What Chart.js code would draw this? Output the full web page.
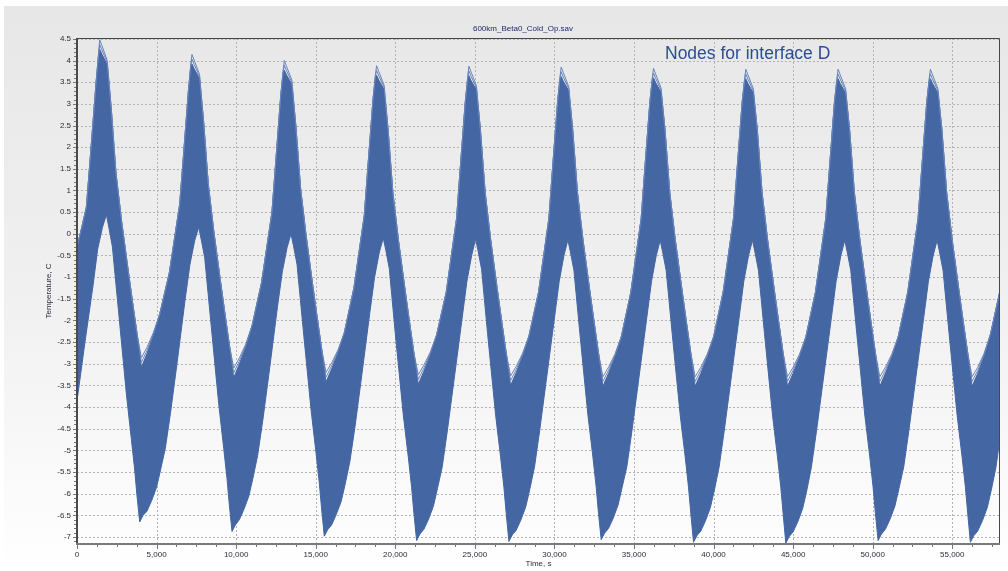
<!DOCTYPE html>
<html>
<head>
<meta charset="utf-8">
<title>600km_Beta0_Cold_Op.sav</title>
<script src="https://cdn.jsdelivr.net/npm/chart.js@4.4.1/dist/chart.umd.min.js"></script>
<style>
  html, body { margin: 0; padding: 0; background: #ffffff; }
  canvas { display: block; }
</style>
</head>
<body>
<canvas id="chart" width="1008" height="571"></canvas>
<script>
// Warmest node temperature over time (upper edge of the node band), s / °C
const upperTime = [
  0, 300, 590, 800, 1000, 1200, 1350, 1426,
  1560, 1900, 2150, 2450, 2800, 3200, 3500, 3770, 4046,
  4400, 4800, 5200, 5800, 6450, 6700, 7000, 7150, 7226,
  7360, 7700, 7950, 8250, 8600, 9000, 9300, 9570, 9846,
  10200, 10600, 11000, 11600, 12250, 12500, 12800, 12950, 13026,
  13160, 13500, 13750, 14050, 14400, 14800, 15100, 15370, 15646,
  16000, 16400, 16800, 17400, 18050, 18300, 18600, 18750, 18826,
  18960, 19300, 19550, 19850, 20200, 20600, 20900, 21170, 21446,
  21800, 22200, 22600, 23200, 23850, 24100, 24400, 24550, 24626,
  24760, 25100, 25350, 25650, 26000, 26400, 26700, 26970, 27246,
  27600, 28000, 28400, 29000, 29650, 29900, 30200, 30350, 30426,
  30560, 30900, 31150, 31450, 31800, 32200, 32500, 32770, 33046,
  33400, 33800, 34200, 34800, 35450, 35700, 36000, 36150, 36226,
  36360, 36700, 36950, 37250, 37600, 38000, 38300, 38570, 38846,
  39200, 39600, 40000, 40600, 41250, 41500, 41800, 41950, 42026,
  42160, 42500, 42750, 43050, 43400, 43800, 44100, 44370, 44646,
  45000, 45400, 45800, 46400, 47050, 47300, 47600, 47750, 47826,
  47960, 48300, 48550, 48850, 49200, 49600, 49900, 50170, 50446,
  50800, 51200, 51600, 52200, 52850, 53100, 53400, 53550, 53626,
  53760, 54100, 54350, 54650, 55000, 55400, 55700, 55970, 56246,
  56600, 57000, 57400, 58000
];
const upperTemp = [
  -0.30, 0.15, 0.62, 1.60, 2.55, 3.50, 4.15, 4.48,
  4.35, 4.00, 2.90, 1.40, 0.30, -0.80, -1.60, -2.30, -2.86,
  -2.62, -2.28, -1.85, -0.90, 0.68, 1.85, 3.30, 3.92, 4.14,
  4.01, 3.68, 2.62, 1.15, 0.05, -1.05, -1.85, -2.55, -3.10,
  -2.87, -2.55, -2.12, -1.12, 0.50, 1.72, 3.18, 3.76, 4.00,
  3.87, 3.55, 2.50, 1.05, -0.05, -1.15, -1.95, -2.65, -3.20,
  -2.98, -2.68, -2.28, -1.25, 0.42, 1.65, 3.10, 3.67, 3.88,
  3.75, 3.43, 2.40, 0.95, -0.15, -1.25, -2.05, -2.75, -3.25,
  -3.03, -2.73, -2.33, -1.35, 0.35, 1.60, 3.05, 3.62, 3.87,
  3.74, 3.42, 2.40, 0.95, -0.15, -1.25, -2.05, -2.75, -3.28,
  -3.06, -2.76, -2.36, -1.35, 0.35, 1.60, 3.05, 3.62, 3.85,
  3.72, 3.40, 2.40, 0.95, -0.15, -1.25, -2.05, -2.75, -3.30,
  -3.08, -2.78, -2.38, -1.35, 0.35, 1.60, 3.05, 3.60, 3.82,
  3.69, 3.37, 2.40, 0.95, -0.15, -1.25, -2.05, -2.75, -3.30,
  -3.08, -2.78, -2.38, -1.35, 0.35, 1.60, 3.05, 3.58, 3.80,
  3.67, 3.35, 2.40, 0.95, -0.15, -1.25, -2.05, -2.75, -3.30,
  -3.08, -2.78, -2.38, -1.35, 0.35, 1.60, 3.05, 3.58, 3.80,
  3.67, 3.35, 2.40, 0.95, -0.15, -1.25, -2.05, -2.75, -3.30,
  -3.08, -2.78, -2.38, -1.35, 0.35, 1.60, 3.05, 3.58, 3.80,
  3.67, 3.35, 2.40, 0.95, -0.15, -1.25, -2.05, -2.75, -3.30,
  -3.08, -2.76, -2.32, -1.31
];
// Spread of the outermost node curves below the upper edge at crests and troughs, °C
const upperSpread = [
  0, 0, 0, 0, 0, 0, 0.06, 0.22,
  0.20, 0.10, 0, 0, 0, 0, 0, 0, 0.22,
  0.14, 0.06, 0, 0, 0, 0, 0, 0.06, 0.22,
  0.20, 0.10, 0, 0, 0, 0, 0, 0, 0.22,
  0.14, 0.06, 0, 0, 0, 0, 0, 0.06, 0.22,
  0.20, 0.10, 0, 0, 0, 0, 0, 0, 0.22,
  0.14, 0.06, 0, 0, 0, 0, 0, 0.06, 0.22,
  0.20, 0.10, 0, 0, 0, 0, 0, 0, 0.22,
  0.14, 0.06, 0, 0, 0, 0, 0, 0.06, 0.22,
  0.20, 0.10, 0, 0, 0, 0, 0, 0, 0.22,
  0.14, 0.06, 0, 0, 0, 0, 0, 0.06, 0.22,
  0.20, 0.10, 0, 0, 0, 0, 0, 0, 0.22,
  0.14, 0.06, 0, 0, 0, 0, 0, 0.06, 0.22,
  0.20, 0.10, 0, 0, 0, 0, 0, 0, 0.22,
  0.14, 0.06, 0, 0, 0, 0, 0, 0.06, 0.22,
  0.20, 0.10, 0, 0, 0, 0, 0, 0, 0.22,
  0.14, 0.06, 0, 0, 0, 0, 0, 0.06, 0.22,
  0.20, 0.10, 0, 0, 0, 0, 0, 0, 0.22,
  0.14, 0.06, 0, 0, 0, 0, 0, 0.06, 0.22,
  0.20, 0.10, 0, 0, 0, 0, 0, 0, 0.22,
  0.14, 0.06, 0, 0
];
// Coldest node temperature over time (lower edge of the node band), s / °C
const lowerTime = [
  0, 500, 1005, 1300, 1600, 1847,
  2000, 2224, 2600, 3104, 3418, 3626, 3770, 3940,
  4150, 4400, 4700, 5000, 5250, 5550, 5870, 6300, 6800, 7100, 7400, 7647,
  7800, 8024, 8400, 8904, 9218, 9426, 9570, 9740,
  9950, 10200, 10500, 10800, 11050, 11350, 11670, 12100, 12600, 12900, 13200, 13447,
  13600, 13824, 14200, 14704, 15018, 15226, 15370, 15540,
  15750, 16000, 16300, 16600, 16850, 17150, 17470, 17900, 18400, 18700, 19000, 19247,
  19400, 19624, 20000, 20504, 20818, 21026, 21170, 21340,
  21550, 21800, 22100, 22400, 22650, 22950, 23270, 23700, 24200, 24500, 24800, 25047,
  25200, 25424, 25800, 26304, 26618, 26826, 26970, 27140,
  27350, 27600, 27900, 28200, 28450, 28750, 29070, 29500, 30000, 30300, 30600, 30847,
  31000, 31224, 31600, 32104, 32418, 32626, 32770, 32940,
  33150, 33400, 33700, 34000, 34250, 34550, 34870, 35300, 35800, 36100, 36400, 36647,
  36800, 37024, 37400, 37904, 38218, 38426, 38570, 38740,
  38950, 39200, 39500, 39800, 40050, 40350, 40670, 41100, 41600, 41900, 42200, 42447,
  42600, 42824, 43200, 43704, 44018, 44226, 44370, 44540,
  44750, 45000, 45300, 45600, 45850, 46150, 46470, 46900, 47400, 47700, 48000, 48247,
  48400, 48624, 49000, 49504, 49818, 50026, 50170, 50340,
  50550, 50800, 51100, 51400, 51650, 51950, 52270, 52700, 53200, 53500, 53800, 54047,
  54200, 54424, 54800, 55304, 55618, 55826, 55970, 56140,
  56350, 56600, 56900, 57200, 57450, 57750, 58000
];
const lowerTemp = [
  -3.86, -2.50, -1.20, -0.35, 0.15, 0.44,
  0.15, -0.30, -1.75, -3.70, -4.75, -5.45, -6.05, -6.65,
  -6.50, -6.40, -6.15, -5.85, -5.45, -4.95, -4.15, -2.95, -1.50, -0.70, -0.15, 0.15,
  -0.12, -0.55, -2.00, -3.92, -4.95, -5.65, -6.25, -6.87,
  -6.72, -6.60, -6.35, -6.05, -5.65, -5.12, -4.32, -3.12, -1.68, -0.88, -0.32, 0.00,
  -0.27, -0.70, -2.15, -4.05, -5.05, -5.75, -6.35, -6.98,
  -6.83, -6.72, -6.47, -6.18, -5.78, -5.25, -4.45, -3.25, -1.82, -1.00, -0.42, -0.10,
  -0.37, -0.80, -2.30, -4.18, -5.15, -5.85, -6.45, -7.08,
  -6.93, -6.82, -6.58, -6.28, -5.88, -5.38, -4.55, -3.35, -1.95, -1.10, -0.50, -0.12,
  -0.39, -0.82, -2.30, -4.18, -5.15, -5.85, -6.45, -7.10,
  -6.95, -6.84, -6.60, -6.30, -5.90, -5.38, -4.55, -3.35, -1.95, -1.10, -0.50, -0.14,
  -0.41, -0.84, -2.30, -4.18, -5.15, -5.85, -6.45, -7.06,
  -6.91, -6.80, -6.56, -6.26, -5.86, -5.38, -4.55, -3.35, -1.95, -1.10, -0.50, -0.15,
  -0.42, -0.85, -2.30, -4.18, -5.15, -5.85, -6.45, -7.12,
  -6.97, -6.86, -6.62, -6.32, -5.92, -5.38, -4.55, -3.35, -1.95, -1.10, -0.50, -0.15,
  -0.42, -0.85, -2.30, -4.18, -5.15, -5.85, -6.45, -7.14,
  -6.99, -6.88, -6.64, -6.34, -5.94, -5.38, -4.55, -3.35, -1.95, -1.10, -0.50, -0.15,
  -0.42, -0.85, -2.30, -4.18, -5.15, -5.85, -6.45, -7.08,
  -6.93, -6.82, -6.58, -6.28, -5.88, -5.38, -4.55, -3.35, -1.95, -1.10, -0.50, -0.15,
  -0.42, -0.85, -2.30, -4.18, -5.15, -5.85, -6.45, -7.12,
  -6.97, -6.86, -6.62, -6.32, -5.92, -5.38, -4.72
];

// Axis ranges and tick positions
const timeRange = [0, 58000];
const timeTicks = [0, 5000, 10000, 15000, 20000, 25000, 30000, 35000, 40000, 45000, 50000, 55000];
const timeMinorStep = 1250;
const tempRange = [-7.16, 4.52];
const tempTicks = [4.5, 4, 3.5, 3, 2.5, 2, 1.5, 1, 0.5, 0, -0.5, -1, -1.5, -2, -2.5, -3, -3.5, -4, -4.5, -5, -5.5, -6, -6.5, -7];
const tempMinorStep = 0.1;

const chartTitle = '600km_Beta0_Cold_Op.sav';
const noteText = 'Nodes for interface D';
const xTitle = 'Time, s';
const yTitle = 'Temperature, C';

const bandColor = '#4466a3';
const edgeColor = '#6784bb';
const textColor = '#2c2c3c';
const uiFont = '"Liberation Sans", Arial, sans-serif';

const toPoints = (ts, vs) => ts.map((t, i) => ({ x: t, y: vs[i] }));
const outerEdge = toPoints(upperTime, upperTemp);
const innerEdge = toPoints(upperTime, upperTemp.map((v, i) => v - upperSpread[i] / 2));
const bandTop = toPoints(upperTime, upperTemp.map((v, i) => v - upperSpread[i]));
const bandBottom = toPoints(lowerTime, lowerTemp);

// Grey-to-white panel background
const panelBackground = {
  id: 'panelBackground',
  beforeDraw(chart) {
    const { ctx, width, height } = chart;
    ctx.save();
    ctx.fillStyle = '#ffffff';
    ctx.fillRect(0, 0, width, height);
    const g = ctx.createLinearGradient(0, 6, 0, height);
    g.addColorStop(0, '#e7e7e7');
    g.addColorStop(0.55, '#f1f1f1');
    g.addColorStop(1, '#ffffff');
    ctx.fillStyle = g;
    ctx.fillRect(4, 6, width - 4, height - 6);
    ctx.restore();
  }
};

// Dashed grid behind the data
const dashedGrid = {
  id: 'dashedGrid',
  beforeDatasetsDraw(chart) {
    const { ctx, chartArea: a, scales: { x, y } } = chart;
    ctx.save();
    ctx.strokeStyle = '#b3b3b3';
    ctx.lineWidth = 1;
    ctx.setLineDash([2, 2]);
    ctx.beginPath();
    x.ticks.forEach(t => {
      const px = Math.round(x.getPixelForValue(t.value)) + 0.5;
      if (px > a.left + 2 && px < a.right - 1) { ctx.moveTo(px, a.top); ctx.lineTo(px, a.bottom); }
    });
    y.ticks.forEach(t => {
      const py = Math.round(y.getPixelForValue(t.value)) + 0.5;
      if (py > a.top + 1 && py < a.bottom - 2) { ctx.moveTo(a.left, py); ctx.lineTo(a.right, py); }
    });
    ctx.stroke();
    ctx.restore();
  }
};

// Plot frame, tick marks and captions
const frameAndText = {
  id: 'frameAndText',
  afterDatasetsDraw(chart) {
    const { ctx, chartArea: a, scales: { x, y } } = chart;
    ctx.save();
    // thin top and right border
    ctx.strokeStyle = '#474747';
    ctx.lineWidth = 1;
    ctx.beginPath();
    ctx.moveTo(a.left, a.top + 0.5); ctx.lineTo(a.right - 0.5, a.top + 0.5); ctx.lineTo(a.right - 0.5, a.bottom);
    ctx.stroke();
    // left axis
    ctx.strokeStyle = '#4a4a4a';
    ctx.lineWidth = 2;
    ctx.beginPath(); ctx.moveTo(a.left, a.top); ctx.lineTo(a.left, a.bottom + 1); ctx.stroke();
    // bottom axis
    ctx.strokeStyle = '#7a7a7a';
    ctx.beginPath(); ctx.moveTo(a.left - 1, a.bottom); ctx.lineTo(a.right, a.bottom); ctx.stroke();

    // minor and major ticks
    ctx.lineWidth = 1;
    ctx.strokeStyle = '#777777';
    ctx.beginPath();
    for (let v = timeRange[0]; v <= timeRange[1]; v += timeMinorStep) {
      const px = Math.round(x.getPixelForValue(v)) + 0.5;
      const major = timeTicks.includes(v);
      ctx.moveTo(px, a.bottom + 1); ctx.lineTo(px, a.bottom + (major ? 5 : 3));
    }
    const first = Math.ceil(tempRange[0] / tempMinorStep);
    const last = Math.floor(tempRange[1] / tempMinorStep);
    for (let k = first; k <= last; k++) {
      const v = k * tempMinorStep;
      const py = Math.round(y.getPixelForValue(v)) + 0.5;
      const major = k % 5 === 0;
      ctx.moveTo(a.left - 1, py); ctx.lineTo(a.left - (major ? 4 : 3), py);
    }
    ctx.stroke();

    // title above the plot
    ctx.fillStyle = '#1d2a6b';
    ctx.font = '8px ' + uiFont;
    ctx.textAlign = 'center';
    ctx.textBaseline = 'middle';
    ctx.fillText(chartTitle, 523, 29);

    // caption inside the plot
    ctx.fillStyle = '#2c4d96';
    ctx.font = '17.5px ' + uiFont;
    ctx.textAlign = 'left';
    ctx.textBaseline = 'alphabetic';
    ctx.fillText(noteText, 665, 59);
    ctx.restore();
  }
};

const lineBase = { pointRadius: 0, pointHoverRadius: 0, tension: 0, borderJoinStyle: 'round' };

new Chart(document.getElementById('chart'), {
  type: 'line',
  data: {
    datasets: [
      Object.assign({ label: 'outer edge', data: outerEdge, borderColor: edgeColor, borderWidth: 1, fill: false }, lineBase),
      Object.assign({ label: 'inner edge', data: innerEdge, borderColor: edgeColor, borderWidth: 1, fill: false }, lineBase),
      Object.assign({ label: 'nodes', data: bandTop, borderColor: bandColor, backgroundColor: bandColor, borderWidth: 1, fill: '+1' }, lineBase),
      Object.assign({ label: 'coldest', data: bandBottom, borderColor: bandColor, borderWidth: 1, fill: false }, lineBase)
    ]
  },
  options: {
    responsive: false,
    animation: false,
    devicePixelRatio: 1,
    layout: { padding: { left: 38, top: 38, right: 8, bottom: 0 } },
    plugins: {
      legend: { display: false },
      tooltip: { enabled: false },
      title: { display: false }
    },
    scales: {
      x: {
        type: 'linear',
        min: timeRange[0],
        max: timeRange[1],
        grid: { display: false, drawTicks: true, tickLength: 3 },
        border: { display: false },
        afterBuildTicks(s) { s.ticks = timeTicks.map(v => ({ value: v })); },
        ticks: {
          padding: 3,
          maxRotation: 0,
          autoSkip: false,
          color: textColor,
          font: { family: uiFont, size: 8 },
          callback: v => Number(v).toLocaleString('en-US')
        },
        title: { display: true, text: xTitle, color: textColor, font: { family: uiFont, size: 8 }, padding: { top: 0, bottom: 2 } },
        afterFit(s) { s.height = 27; }
      },
      y: {
        type: 'linear',
        min: tempRange[0],
        max: tempRange[1],
        grid: { display: false, drawTicks: true, tickLength: 3 },
        border: { display: false },
        afterBuildTicks(s) { s.ticks = tempTicks.map(v => ({ value: v })); },
        ticks: {
          padding: 3,
          autoSkip: false,
          color: textColor,
          font: { family: uiFont, size: 8 },
          callback: v => String(v)
        },
        title: { display: true, text: yTitle, color: textColor, font: { family: uiFont, size: 8 }, padding: { top: 6, bottom: 0 } },
        afterFit(s) { s.width = 39; }
      }
    }
  },
  plugins: [panelBackground, dashedGrid, frameAndText]
});
</script>
</body>
</html>
